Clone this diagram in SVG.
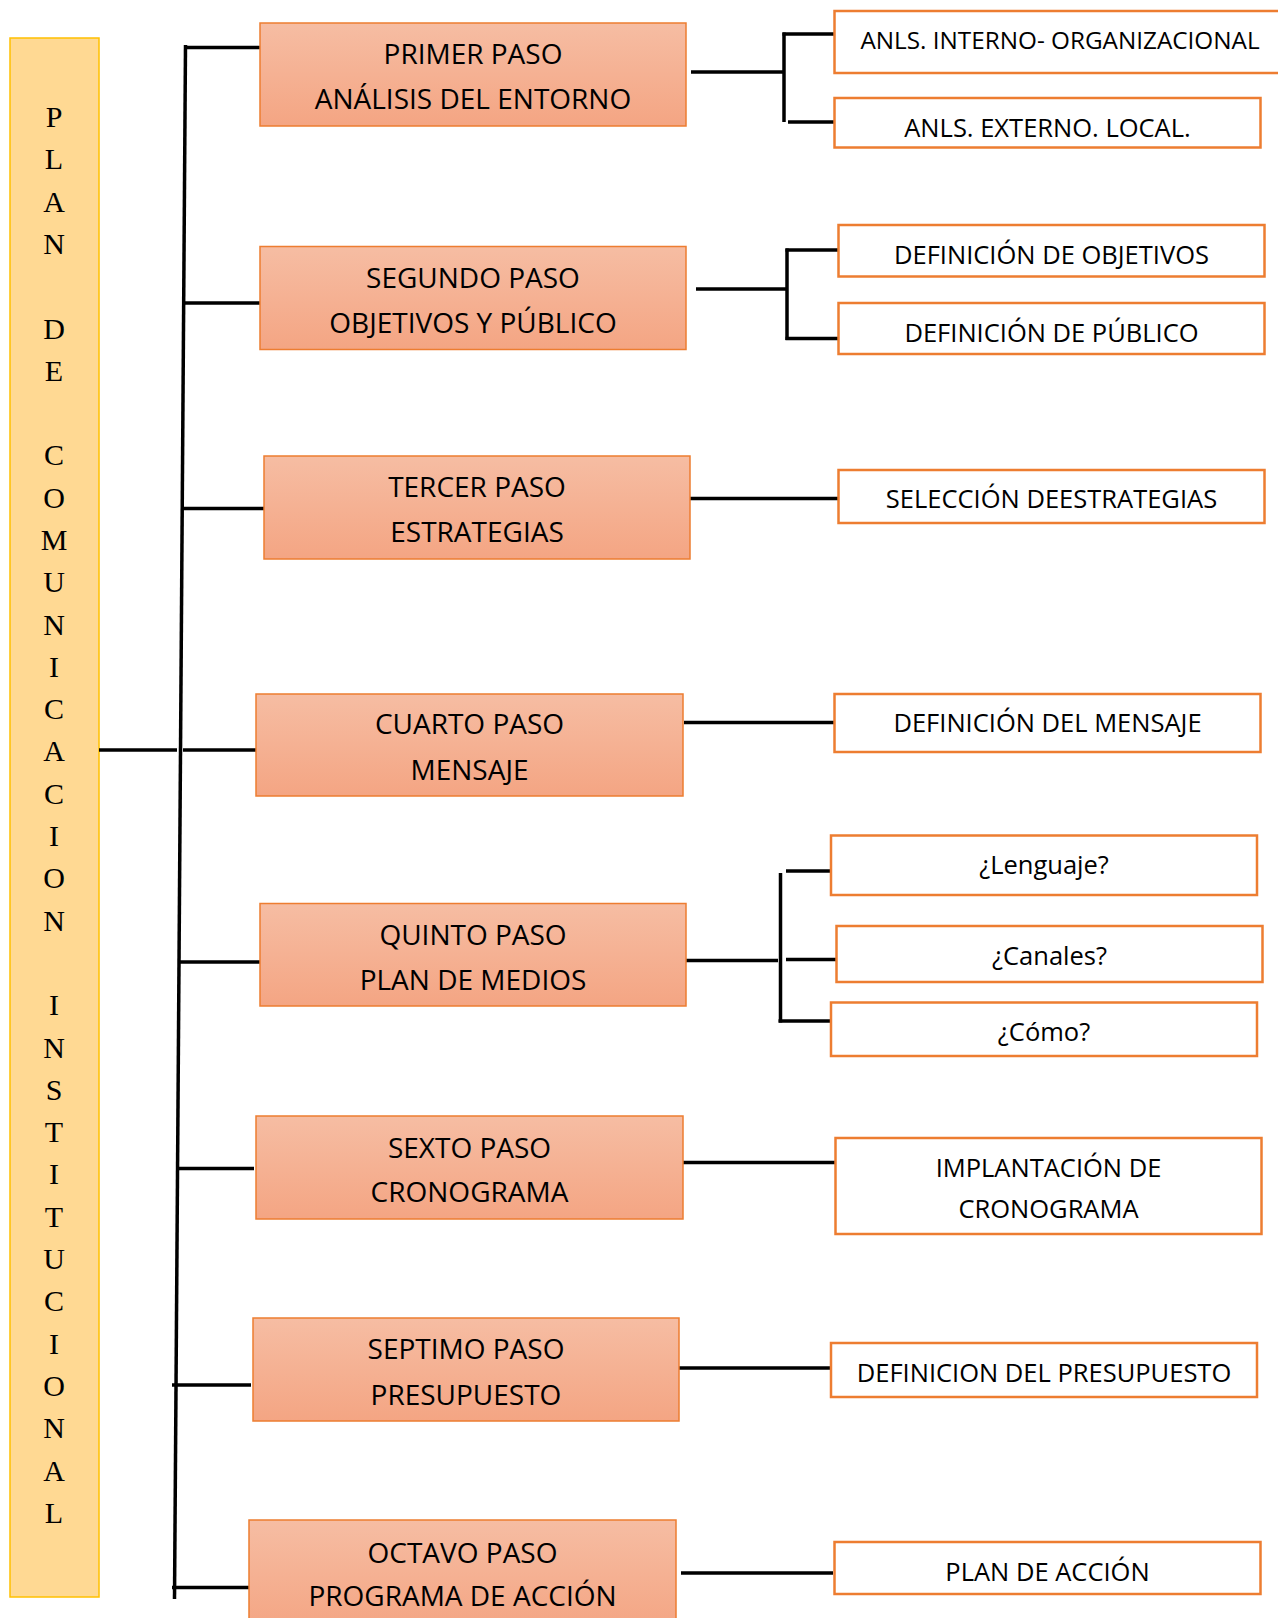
<svg xmlns="http://www.w3.org/2000/svg" width="1278" height="1618" viewBox="0 0 1278 1618">
<defs>
<linearGradient id="stepGrad" x1="0" y1="0" x2="0" y2="1">
<stop offset="0" stop-color="#F6BDA3"/>
<stop offset="1" stop-color="#F4A583"/>
</linearGradient>
</defs>
<style>
.step{fill:url(#stepGrad);stroke:#ED7D31;stroke-width:1.5}
.sub{fill:#FFFFFF;stroke:#ED7D31;stroke-width:2.5}
.st{font-family:"Open Sans","Liberation Sans",sans-serif;font-size:28px;fill:#000;text-anchor:middle}
.sb{font-family:"Open Sans","Liberation Sans",sans-serif;font-size:25.5px;fill:#000;text-anchor:middle}
.ln{stroke:#000;stroke-width:3.5;fill:none}
.vt{font-family:"Liberation Serif","Times New Roman",serif;font-size:30px;fill:#000;text-anchor:middle}
</style>
<rect width="1278" height="1618" fill="#FFFFFF"/>

<g id="title">
<rect x="10" y="38" width="89" height="1559" fill="#FFD993" stroke="#FFC000" stroke-width="1.5"/>
<text class="vt" x="54" y="127">P<tspan x="54" dy="42.3">L</tspan><tspan x="54" dy="42.3">A</tspan><tspan x="54" dy="42.3">N</tspan><tspan x="54" dy="84.6">D</tspan><tspan x="54" dy="42.3">E</tspan><tspan x="54" dy="84.6">C</tspan><tspan x="54" dy="42.3">O</tspan><tspan x="54" dy="42.3">M</tspan><tspan x="54" dy="42.3">U</tspan><tspan x="54" dy="42.3">N</tspan><tspan x="54" dy="42.3">I</tspan><tspan x="54" dy="42.3">C</tspan><tspan x="54" dy="42.3">A</tspan><tspan x="54" dy="42.3">C</tspan><tspan x="54" dy="42.3">I</tspan><tspan x="54" dy="42.3">O</tspan><tspan x="54" dy="42.3">N</tspan><tspan x="54" dy="84.6">I</tspan><tspan x="54" dy="42.3">N</tspan><tspan x="54" dy="42.3">S</tspan><tspan x="54" dy="42.3">T</tspan><tspan x="54" dy="42.3">I</tspan><tspan x="54" dy="42.3">T</tspan><tspan x="54" dy="42.3">U</tspan><tspan x="54" dy="42.3">C</tspan><tspan x="54" dy="42.3">I</tspan><tspan x="54" dy="42.3">O</tspan><tspan x="54" dy="42.3">N</tspan><tspan x="54" dy="42.3">A</tspan><tspan x="54" dy="42.3">L</tspan></text>
</g>

<g id="connectors">
<line class="ln" x1="185.5" y1="45" x2="174.5" y2="1599"/>
<line class="ln" x1="99" y1="750" x2="177" y2="750"/>
<line class="ln" x1="183" y1="750" x2="262" y2="750"/>
<line class="ln" x1="184" y1="47.5" x2="262" y2="47.5"/>
<line class="ln" x1="183" y1="303" x2="262" y2="303"/>
<line class="ln" x1="181.5" y1="508.5" x2="264" y2="508.5"/>
<line class="ln" x1="179" y1="962" x2="262" y2="962"/>
<line class="ln" x1="176" y1="1168.5" x2="254" y2="1168.5"/>
<line class="ln" x1="172" y1="1385" x2="251" y2="1385"/>
<line class="ln" x1="172" y1="1587.5" x2="249" y2="1587.5"/>

<line class="ln" x1="691" y1="72" x2="784" y2="72"/>
<line class="ln" x1="784" y1="32.5" x2="784" y2="122"/>
<line class="ln" x1="782.5" y1="34" x2="835" y2="34"/>
<line class="ln" x1="788" y1="122" x2="837" y2="122"/>

<line class="ln" x1="696" y1="289" x2="787" y2="289"/>
<line class="ln" x1="787" y1="248.5" x2="787" y2="340"/>
<line class="ln" x1="785.5" y1="250" x2="839" y2="250"/>
<line class="ln" x1="785.5" y1="338.5" x2="839" y2="338.5"/>

<line class="ln" x1="689" y1="498.5" x2="842" y2="498.5"/>
<line class="ln" x1="684" y1="722.5" x2="837" y2="722.5"/>

<line class="ln" x1="686" y1="960.5" x2="778" y2="960.5"/>
<line class="ln" x1="780.5" y1="873" x2="780.5" y2="1022.5"/>
<line class="ln" x1="786" y1="871" x2="838" y2="871"/>
<line class="ln" x1="786" y1="959.5" x2="837" y2="959.5"/>
<line class="ln" x1="778.5" y1="1021" x2="831" y2="1021"/>

<line class="ln" x1="681" y1="1162.5" x2="835" y2="1162.5"/>
<line class="ln" x1="677" y1="1368" x2="831" y2="1368"/>
<line class="ln" x1="681" y1="1573" x2="833" y2="1573"/>
</g>

<g id="step1">
<rect class="step" x="260" y="23" width="426" height="103"/>
<text class="st" x="473" y="63.5">PRIMER PASO</text>
<text class="st" x="473" y="109">ANÁLISIS DEL ENTORNO</text>
</g>
<g id="step2">
<rect class="step" x="260" y="246.5" width="426" height="103"/>
<text class="st" x="473" y="287.5">SEGUNDO PASO</text>
<text class="st" x="473" y="333">OBJETIVOS Y PÚBLICO</text>
</g>
<g id="step3">
<rect class="step" x="264" y="456" width="426" height="103"/>
<text class="st" x="477" y="497">TERCER PASO</text>
<text class="st" x="477" y="542">ESTRATEGIAS</text>
</g>
<g id="step4">
<rect class="step" x="256" y="694" width="427" height="102"/>
<text class="st" x="469.5" y="734">CUARTO PASO</text>
<text class="st" x="469.5" y="779.5">MENSAJE</text>
</g>
<g id="step5">
<rect class="step" x="260" y="903.5" width="426" height="102.5"/>
<text class="st" x="473" y="944.5">QUINTO PASO</text>
<text class="st" x="473" y="990">PLAN DE MEDIOS</text>
</g>
<g id="step6">
<rect class="step" x="256" y="1116" width="427" height="103"/>
<text class="st" x="469.5" y="1158">SEXTO PASO</text>
<text class="st" x="469.5" y="1201.5">CRONOGRAMA</text>
</g>
<g id="step7">
<rect class="step" x="253" y="1318" width="426" height="103"/>
<text class="st" x="466" y="1359">SEPTIMO PASO</text>
<text class="st" x="466" y="1404.5">PRESUPUESTO</text>
</g>
<g id="step8">
<rect class="step" x="249" y="1520" width="427" height="110"/>
<text class="st" x="462.5" y="1562.5">OCTAVO PASO</text>
<text class="st" x="462.5" y="1606">PROGRAMA DE ACCIÓN</text>
</g>

<g id="sub1a">
<rect class="sub" x="834.5" y="11" width="460" height="62"/>
<text class="sb" x="1060" y="48.5" style="font-size:24.3px">ANLS. INTERNO- ORGANIZACIONAL</text>
</g>
<g id="sub1b">
<rect class="sub" x="834.5" y="98" width="426" height="49.5"/>
<text class="sb" x="1047.5" y="137">ANLS. EXTERNO. LOCAL.</text>
</g>
<g id="sub2a">
<rect class="sub" x="838.5" y="225" width="426" height="51.5"/>
<text class="sb" x="1051.5" y="264">DEFINICIÓN DE OBJETIVOS</text>
</g>
<g id="sub2b">
<rect class="sub" x="838.5" y="303" width="426" height="51"/>
<text class="sb" x="1051.5" y="342">DEFINICIÓN DE PÚBLICO</text>
</g>
<g id="sub3">
<rect class="sub" x="838.5" y="470" width="426" height="53"/>
<text class="sb" x="1051.5" y="508">SELECCIÓN DEESTRATEGIAS</text>
</g>
<g id="sub4">
<rect class="sub" x="834.5" y="694" width="426" height="58"/>
<text class="sb" x="1047.5" y="732">DEFINICIÓN DEL MENSAJE</text>
</g>
<g id="sub5a">
<rect class="sub" x="831" y="835.5" width="426" height="59.5"/>
<text class="sb" x="1044" y="874">¿Lenguaje?</text>
</g>
<g id="sub5b">
<rect class="sub" x="836.5" y="926" width="426" height="56"/>
<text class="sb" x="1049.5" y="965">¿Canales?</text>
</g>
<g id="sub5c">
<rect class="sub" x="831" y="1002.5" width="426" height="53.5"/>
<text class="sb" x="1044" y="1040.5">¿Cómo?</text>
</g>
<g id="sub6">
<rect class="sub" x="835.5" y="1138" width="426" height="96"/>
<text class="sb" x="1048.5" y="1177">IMPLANTACIÓN DE</text>
<text class="sb" x="1048.5" y="1218">CRONOGRAMA</text>
</g>
<g id="sub7">
<rect class="sub" x="831" y="1343" width="426" height="54"/>
<text class="sb" x="1044" y="1382">DEFINICION DEL PRESUPUESTO</text>
</g>
<g id="sub8">
<rect class="sub" x="834.5" y="1542" width="426" height="52"/>
<text class="sb" x="1047.5" y="1581">PLAN DE ACCIÓN</text>
</g>
</svg>
